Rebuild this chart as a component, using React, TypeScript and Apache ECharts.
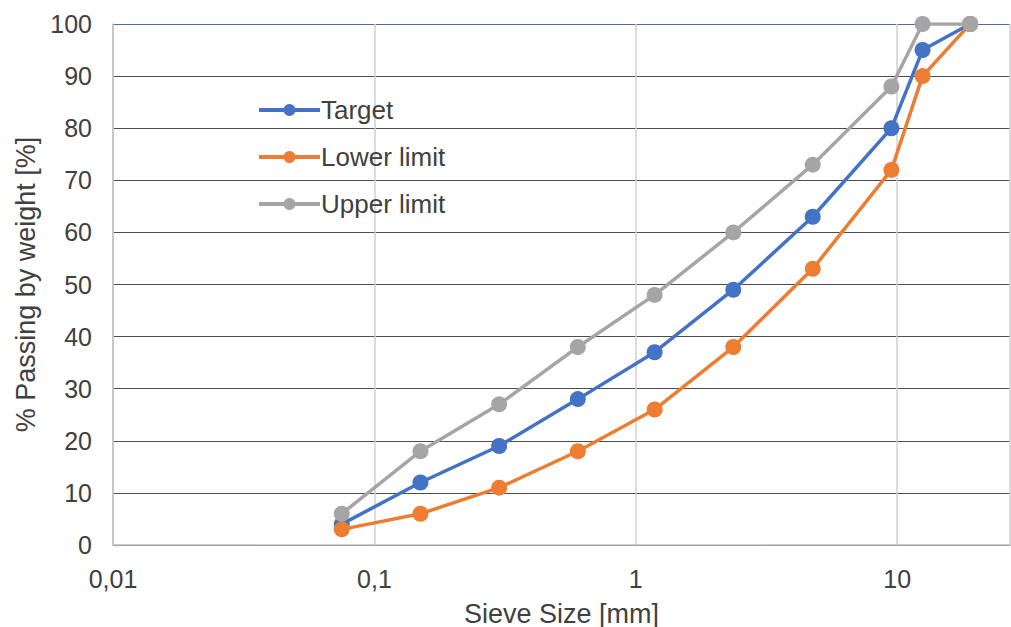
import React, { useEffect, useRef } from "react";
import * as echarts from "echarts";

const sieveSizes = [0.075, 0.15, 0.3, 0.6, 1.18, 2.36, 4.75, 9.5, 12.5, 19];
const targetValues = [4, 12, 19, 28, 37, 49, 63, 80, 95, 100];
const lowerValues = [3, 6, 11, 18, 26, 38, 53, 72, 90, 100];
const upperValues = [6, 18, 27, 38, 48, 60, 73, 88, 100, 100];
const seriesNames = ["Target", "Lower limit", "Upper limit"];

const FONT = "Liberation Sans, Arial, sans-serif";
const TXT = "#404040";

const pairs = (vals: number[]) => sieveSizes.map((s, i) => [s, vals[i]]);

export default function App() {
  const ref = useRef<HTMLDivElement>(null);
  useEffect(() => {
    if (!ref.current) return;
    const chart = echarts.init(ref.current, null, { renderer: "svg", width: 1011, height: 627 });
    const gridColors = Array.from({ length: 10 }, () => "#4d4d4d").concat(["#4a6fa5"]);
    const mk = (name: string, vals: number[], color: string) => ({
      name,
      type: "line",
      data: pairs(vals),
      symbol: "circle",
      symbolSize: 16,
      lineStyle: { color, width: 3.5 },
      itemStyle: { color },
      z: 3,
    });
    chart.setOption({
      animation: false,
      textStyle: { fontFamily: FONT },
      grid: {
        left: 113,
        top: 24,
        right: 1,
        bottom: 82,
        containLabel: false,
        outerBoundsMode: "none",
      },
      legend: {
        orient: "vertical",
        left: 252,
        top: 92,
        itemWidth: 61,
        itemHeight: 15,
        itemGap: 21,
        data: seriesNames,
        lineStyle: { width: 4 },
        textStyle: { fontSize: 26, color: TXT, fontFamily: FONT, padding: [0, 0, 0, -4] },
      },
      xAxis: {
        type: "log",
        logBase: 10,
        min: 0.01,
        max: 27,
        name: "Sieve Size [mm]",
        nameLocation: "middle",
        nameGap: 55,
        nameTextStyle: { fontSize: 27, color: TXT, fontFamily: FONT },
        axisLine: { show: true, lineStyle: { color: "#bfbfbf", width: 1.5 } },
        axisTick: { show: false },
        axisLabel: {
          fontSize: 25,
          color: TXT,
          fontFamily: FONT,
          margin: 21,
          showMaxLabel: false,
          formatter: (v: number) => {
            const e = Math.log10(v);
            if (Math.abs(e - Math.round(e)) > 1e-6) return "";
            const r = Math.pow(10, Math.round(e));
            return Number(r.toPrecision(3)).toString().replace(".", ",");
          },
        },
        splitLine: { show: true, lineStyle: { color: "#d0d0d0", width: 1.5 } },
      },
      yAxis: {
        type: "value",
        min: 0,
        max: 100,
        interval: 10,
        name: "% Passing by weight [%]",
        nameLocation: "middle",
        nameGap: 72,
        nameTextStyle: { fontSize: 27, color: TXT, fontFamily: FONT },
        axisLine: { show: true, lineStyle: { color: "#bfbfbf", width: 1.5 } },
        axisTick: { show: false },
        axisLabel: { fontSize: 25, color: TXT, fontFamily: FONT, margin: 21 },
        splitLine: { show: true, lineStyle: { color: gridColors, width: 1 } },
      },
      series: [
        mk(seriesNames[0], targetValues, "#4472C4"),
        mk(seriesNames[1], lowerValues, "#ED7D31"),
        mk(seriesNames[2], upperValues, "#A5A5A5"),
      ],
    });
    return () => chart.dispose();
  }, []);
  return (
    <div
      ref={ref}
      style={{ position: "fixed", left: 0, top: 0, width: 1011, height: 627, background: "#fff" }}
    />
  );
}
